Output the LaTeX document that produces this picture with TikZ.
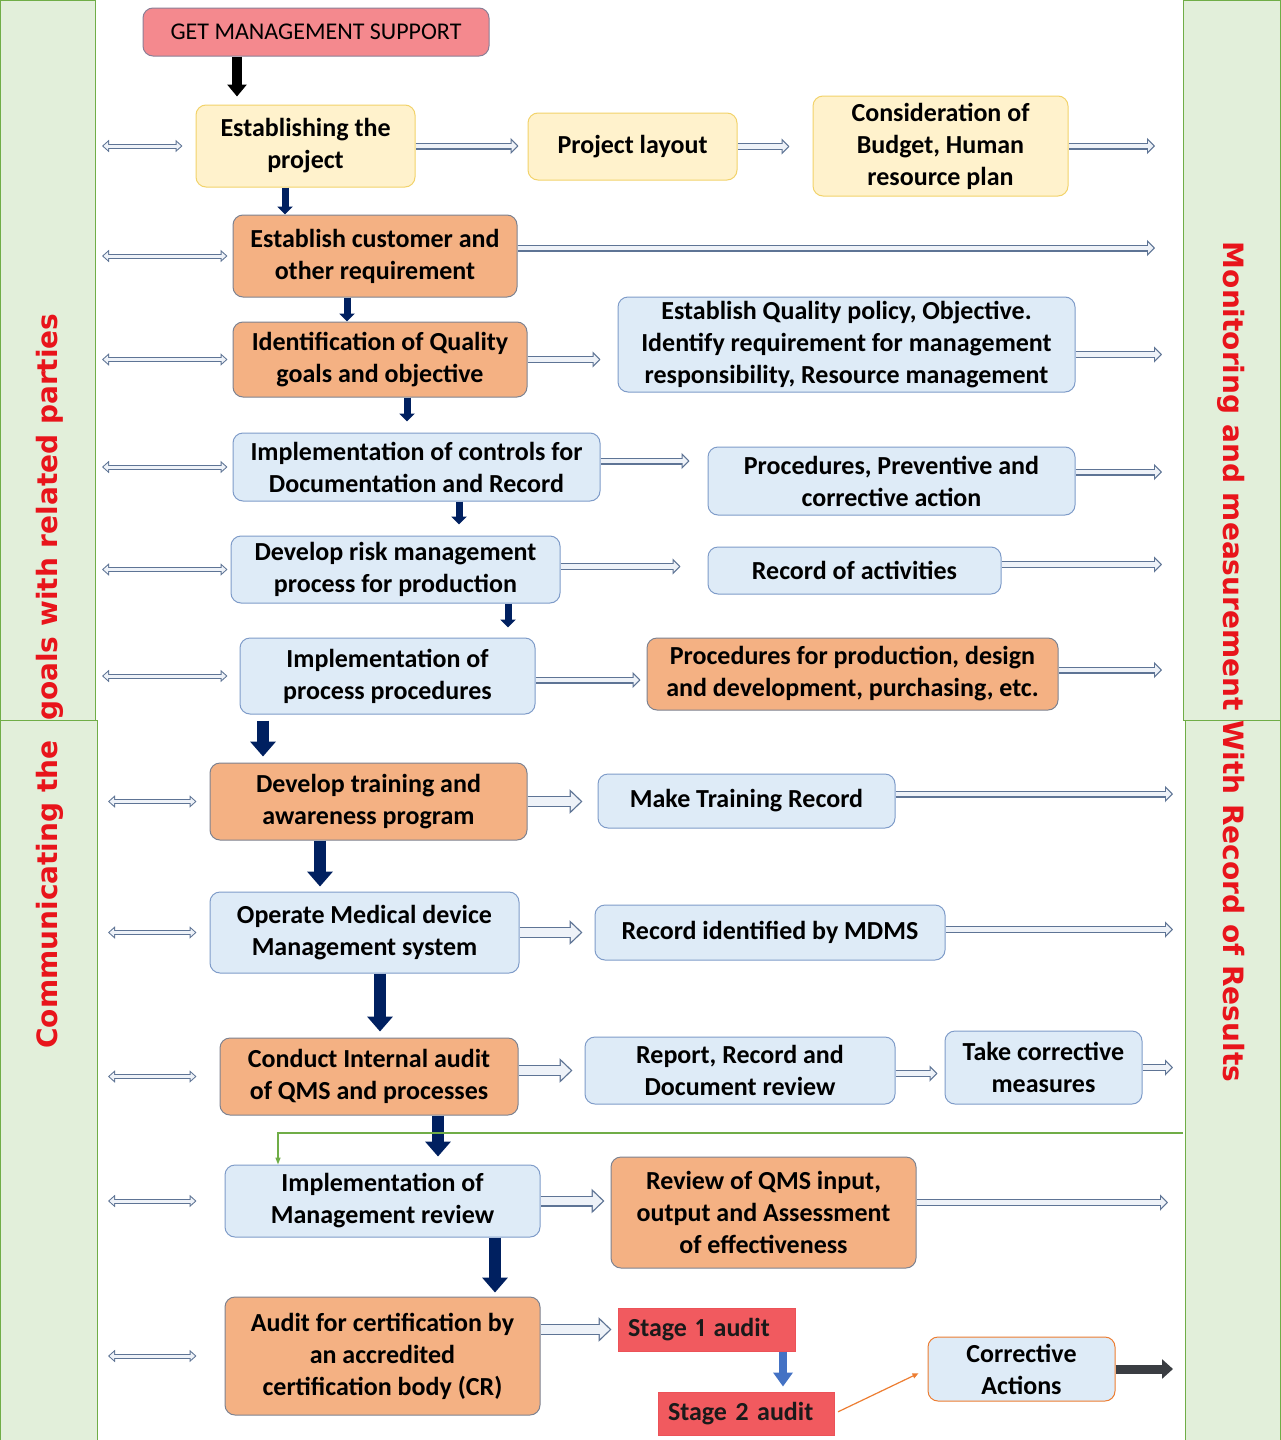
\documentclass[tikz,border=0pt]{standalone}
\usepackage{fontspec}
\setmainfont{Carlito}[Numbers=Proportional]
\newfontfamily\sidefont{DejaVu Sans}
\usetikzlibrary{arrows.meta}

\definecolor{panelfill}{HTML}{E2EFDA}
\definecolor{panelline}{HTML}{70AD47}
\definecolor{sidered}{HTML}{E8141B}
\definecolor{yelfill}{HTML}{FFF2CC}
\definecolor{yelline}{HTML}{F2D36B}
\definecolor{orfill}{HTML}{F4B183}
\definecolor{orline}{HTML}{7D8290}
\definecolor{blufill}{HTML}{DEEBF7}
\definecolor{bluline}{HTML}{7F9CC9}
\definecolor{pinkfill}{HTML}{F4898E}
\definecolor{pinkline}{HTML}{8B7F96}
\definecolor{stagefill}{HTML}{F15A5F}
\definecolor{stageline}{HTML}{EC5258}
\definecolor{navy}{HTML}{002060}
\definecolor{linkline}{HTML}{5E7495}
\definecolor{linkfill}{HTML}{EEF2F8}
\definecolor{stageblue}{HTML}{4472C4}
\definecolor{corrline}{HTML}{ED7D31}
\definecolor{darkout}{HTML}{3A3D42}
\definecolor{stagetext}{HTML}{1A1A1A}

\tikzset{
	box/.style={rounded corners=10pt, align=center, inner sep=0pt, line width=1pt, font=\fontsize{26}{32}\selectfont\bfseries},
	yellowbox/.style={box, draw=yelline, fill=yelfill},
	orangebox/.style={box, draw=orline, fill=orfill},
	bluebox/.style={box, draw=bluline, fill=blufill},
	pinkbox/.style={box, draw=pinkline, fill=pinkfill, font=\fontsize{24}{28}\selectfont},
	stagebox/.style={draw=stageline, fill=stagefill, text=stagetext, line width=1pt, align=left, inner xsep=10pt, inner ysep=0pt, minimum height=43pt, font=\fontsize{26}{32}\selectfont\bfseries},
	panel/.style={fill=panelfill, draw=panelline, line width=1pt},
	sidelabel/.style={text=sidered, font=\sidefont\fontsize{28}{32}\selectfont\bfseries},
	flow/.style={draw=linkline, line width=7pt, shorten >=#1, -{Triangle[length=8pt,width=16pt]},
		postaction={draw=linkfill, line width=4.6pt, shorten >=#1+1.7pt, -{Triangle[length=5.1pt,width=10.2pt]}}},
	flow/.default=0pt,
	wideflow/.style={draw=linkline, line width=11pt, shorten >=#1, -{Triangle[length=13pt,width=24pt]},
		postaction={draw=linkfill, line width=8.4pt, shorten >=#1+1.9pt, -{Triangle[length=9.8pt,width=18.1pt]}}},
	wideflow/.default=0pt,
	sideflow/.style={draw=linkline, line width=5pt, shorten >=#1, {Triangle[length=7pt,width=12pt]}-{Triangle[length=7pt,width=12pt]},
		postaction={draw=linkfill, line width=3pt, shorten <=1.5pt, shorten >=#1+1.5pt, {Triangle[length=4.5pt,width=7.6pt]}-{Triangle[length=4.5pt,width=7.6pt]}}},
	sideflow/.default=0pt,
	down/.style={draw=navy, line width=7pt, -{Triangle[length=8pt,width=15pt]}},
	bigdown/.style={draw=navy, line width=12pt, -{Triangle[length=15pt,width=25pt]}},
	blackdown/.style={draw=black, line width=10pt, -{Triangle[length=12pt,width=19pt]}},
	stagearrow/.style={draw=stageblue, line width=8pt, -{Triangle[length=14pt,width=19pt]}},
	corrarrow/.style={draw=corrline, line width=1.2pt, -{Triangle[length=6pt,width=5pt]}},
	outarrow/.style={draw=darkout, line width=9pt, -{Triangle[length=11pt,width=19pt]}},
	feedback/.style={draw=panelline, line width=1.5pt, -{Triangle[length=7pt,width=5pt]}}
}

\begin{document}
\begin{tikzpicture}[x=1pt, y=-1pt]
	\useasboundingbox[fill=white] (0,0) rectangle (1280,1440);
	\coordinate (lft) at (102,0);
	\coordinate (lftb) at (108,0);
	\coordinate (rgta) at (1155,0);
	\coordinate (rgtb) at (1162,0);
	\coordinate (rgtc) at (1173,0);
	\coordinate (fb) at (1183,1133);

	\draw[panel] (0,0) rectangle (95,720);
	\draw[panel] (0,720) rectangle (97,1440);
	\draw[panel] (1183,0) rectangle (1280,720);
	\draw[panel] (1185,720) rectangle (1280,1440);
	\node[sidelabel, rotate=90] (leftlabel) at (50,681) {Communicating the\ \ goals with related parties};
	\node[sidelabel, rotate=-90] (rightlabel) at (1231,662) {Monitoring and measurement With Record of Results};

	\node[pinkbox, minimum width=346pt, minimum height=48pt] (support) at (316,32) {GET MANAGEMENT SUPPORT};
	\node[yellowbox, minimum width=219pt, minimum height=82pt] (est) at (305.5,146) {Establishing the\\project};
	\node[yellowbox, minimum width=209pt, minimum height=67pt] (layout) at (632.5,146.5) {Project layout};
	\node[yellowbox, minimum width=255pt, minimum height=100pt] (budget) at (940.5,146) {Consideration of\\Budget, Human\\resource plan};
	\node[orangebox, minimum width=284pt, minimum height=82pt] (cust) at (375,256) {Establish customer and\\other requirement};
	\node[orangebox, minimum width=294pt, minimum height=75pt] (qual) at (380,359.5) {Identification of Quality\\goals and objective};
	\node[bluebox, minimum width=457pt, minimum height=95pt] (policy) at (846.5,344.5) {Establish Quality policy, Objective.\\Identify requirement for management\\responsibility, Resource management};
	\node[bluebox, minimum width=367pt, minimum height=68pt] (ctrl) at (416.5,467) {Implementation of controls for\\Documentation and Record};
	\node[bluebox, minimum width=367pt, minimum height=68pt] (proc) at (891.5,481) {Procedures, Preventive and\\corrective action};
	\node[bluebox, minimum width=329pt, minimum height=67pt] (risk) at (395.5,569.5) {Develop risk management\\process for production};
	\node[bluebox, minimum width=293pt, minimum height=47pt] (rec) at (854.5,570.5) {Record of activities};
	\node[bluebox, minimum width=295pt, minimum height=76pt] (impl) at (387.5,676) {Implementation of\\process procedures};
	\node[orangebox, minimum width=411pt, minimum height=72pt] (prod) at (852.5,674) {Procedures for production, design\\and development, purchasing, etc.};
	\node[orangebox, minimum width=317pt, minimum height=77pt] (train) at (368.5,801.5) {Develop training and\\awareness program};
	\node[bluebox, minimum width=297pt, minimum height=54pt] (trec) at (746.5,801) {Make Training Record};
	\node[bluebox, minimum width=309pt, minimum height=81pt] (oper) at (364.5,932.5) {Operate Medical device\\Management system};
	\node[bluebox, minimum width=350pt, minimum height=55pt] (mdms) at (770,932.5) {Record identified by MDMS};
	\node[orangebox, minimum width=298pt, minimum height=77pt] (audit) at (369,1076.5) {Conduct Internal audit\\of QMS and processes};
	\node[bluebox, minimum width=310pt, minimum height=67pt] (report) at (740,1070.5) {Report, Record and\\Document review};
	\node[bluebox, minimum width=197pt, minimum height=73pt] (take) at (1043.5,1067.5) {Take corrective\\measures};
	\node[bluebox, minimum width=315pt, minimum height=72pt] (mrev) at (382.5,1201) {Implementation of\\Management review};
	\node[orangebox, minimum width=305pt, minimum height=111pt] (qmsrev) at (763.5,1212.5) {Review of QMS input,\\output and Assessment\\of effectiveness};
	\node[orangebox, minimum width=315pt, minimum height=118pt] (cert) at (382.5,1356) {Audit for certification by\\an accredited\\certification body (CR)};
	\node[stagebox, text width=157pt] (stageone) at (706.5,1329.5) {Stage 1 audit};
	\node[stagebox, text width=156pt] (stagetwo) at (746,1413.5) {Stage 2 audit};
	\node[box, draw=corrline, fill=blufill, minimum width=187pt, minimum height=64pt] (corr) at (1021.5,1369) {Corrective\\Actions};

	\draw[blackdown, shorten >=8pt] (support.south -| 237,0) -- (est.north -| 237,0);
	\draw[flow=9pt] (est.east) -- (est.east -| layout.west);
	\draw[flow=23pt] (layout.east) -- (layout.east -| budget.west);
	\draw[flow] (budget.east) -- (budget.east -| rgta);
	\draw[sideflow=13pt] (est.west -| lft) -- (est.west);

	\draw[down] (est.south -| 285,0) -- (cust.north -| 285,0);
	\draw[flow] ([yshift=8pt]cust.east) -- ([yshift=8pt]cust.east -| rgta);
	\draw[sideflow=5pt] (cust.west -| lft) -- (cust.west);

	\draw[down] (cust.south -| 347,0) -- (qual.north -| 347,0);
	\draw[flow=17pt] (qual.east) -- (qual.east -| policy.west);
	\draw[flow] ([yshift=-10pt]policy.east) -- ([yshift=-10pt]policy.east -| rgtb);
	\draw[sideflow=5pt] (qual.west -| lft) -- (qual.west);

	\draw[down, shorten >=11pt] (qual.south -| 407,0) -- (ctrl.north -| 407,0);
	\draw[flow=18pt] ([yshift=6pt]ctrl.east) -- ([yshift=6pt]ctrl.east -| proc.west);
	\draw[flow] ([yshift=9pt]proc.east) -- ([yshift=9pt]proc.east -| rgtb);
	\draw[sideflow=5pt] (ctrl.west -| lft) -- (ctrl.west);

	\draw[down, shorten >=11pt] (ctrl.south -| 459,0) -- (risk.north -| 459,0);
	\draw[flow=27pt] ([yshift=3pt]risk.east) -- ([yshift=3pt]risk.east -| rec.west);
	\draw[flow] ([yshift=6pt]rec.east) -- ([yshift=6pt]rec.east -| rgtb);
	\draw[sideflow=3pt] (risk.west -| lft) -- (risk.west);

	\draw[down, shorten >=10pt] (risk.south -| 508,0) -- (impl.north -| 508,0);
	\draw[flow=6pt] ([yshift=-4pt]impl.east) -- ([yshift=-4pt]impl.east -| prod.west);
	\draw[flow] ([yshift=4pt]prod.east) -- ([yshift=4pt]prod.east -| rgtb);
	\draw[sideflow=12pt] (impl.west -| lft) -- (impl.west);

	\draw[bigdown, shorten <=6pt, shorten >=6pt] (impl.south -| 263,0) -- (train.north -| 263,0);
	\draw[wideflow=15pt] (train.east) -- (train.east -| trec.west);
	\draw[flow] ([yshift=7pt]trec.east) -- ([yshift=7pt]trec.east -| rgtc);
	\draw[sideflow=13pt] (train.west -| lftb) -- (train.west);

	\draw[bigdown, shorten >=5pt] (train.south -| 320,0) -- (oper.north -| 320,0);
	\draw[wideflow=12pt] (oper.east) -- (oper.east -| mdms.west);
	\draw[flow] ([yshift=3pt]mdms.east) -- ([yshift=3pt]mdms.east -| rgtc);
	\draw[sideflow=13pt] (oper.west -| lftb) -- (oper.west);

	\draw[bigdown, shorten >=6pt] (oper.south -| 380,0) -- (audit.north -| 380,0);
	\draw[wideflow=12pt] ([yshift=6pt]audit.east) -- ([yshift=6pt]audit.east -| report.west);
	\draw[flow=7pt] ([yshift=-3pt]report.east) -- ([yshift=-3pt]report.east -| take.west);
	\draw[flow] (take.east) -- (take.east -| rgtc);
	\draw[sideflow=23pt] (audit.west -| lftb) -- (audit.west);

	\draw[bigdown, shorten >=8pt] (audit.south -| 438,0) -- (mrev.north -| 438,0);
	\draw[feedback] (fb) -| (mrev.north -| 278,0);
	\draw[wideflow=6pt] (mrev.east) -- (mrev.east -| qmsrev.west);
	\draw[flow] ([yshift=10pt]qmsrev.east) -- ([yshift=10pt]qmsrev.east -| 1168,0);
	\draw[sideflow=28pt] (mrev.west -| lftb) -- (mrev.west);

	\draw[bigdown, shorten >=4pt] (mrev.south -| 495,0) -- (cert.north -| 495,0);
	\draw[wideflow=6pt] (cert.east |- stageone.west) -- (stageone.west);
	\draw[stagearrow, shorten >=5pt] (stageone.south -| 783,0) -- (stagetwo.north -| 783,0);
	\draw[corrarrow, shorten <=4pt, shorten >=10pt] (stagetwo.east) -- (corr.west);
	\draw[outarrow] (corr.east) -- (corr.east -| rgtc);
	\draw[sideflow=28pt] (cert.west -| lftb) -- (cert.west);
\end{tikzpicture}
\end{document}
